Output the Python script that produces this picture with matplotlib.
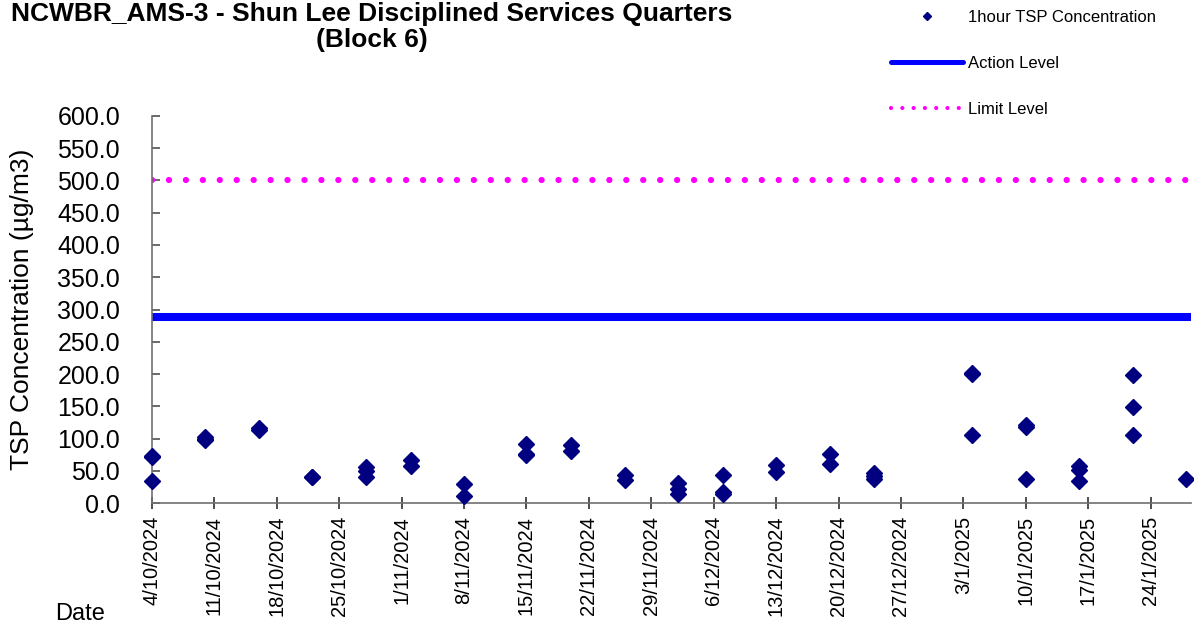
#!/usr/bin/env python3

import datetime
import matplotlib
matplotlib.use('Agg')
import matplotlib.pyplot as plt
import matplotlib.dates as mdates
from matplotlib.lines import Line2D
from matplotlib.ticker import FuncFormatter, FormatStrFormatter, MultipleLocator

plt.rcParams['font.family'] = ['Liberation Sans', 'DejaVu Sans']

# 1-hour TSP readings (ug/m3), one entry per sample
sample_days = ['2024-10-04', '2024-10-04', '2024-10-04',
               '2024-10-10', '2024-10-10', '2024-10-10',
               '2024-10-16', '2024-10-16',
               '2024-10-22', '2024-10-22',
               '2024-10-28', '2024-10-28', '2024-10-28',
               '2024-11-02', '2024-11-02',
               '2024-11-08', '2024-11-08',
               '2024-11-15', '2024-11-15', '2024-11-15',
               '2024-11-20', '2024-11-20',
               '2024-11-26', '2024-11-26',
               '2024-12-02', '2024-12-02', '2024-12-02',
               '2024-12-07', '2024-12-07', '2024-12-07',
               '2024-12-13', '2024-12-13',
               '2024-12-19', '2024-12-19',
               '2024-12-24', '2024-12-24', '2024-12-24',
               '2025-01-04', '2025-01-04', '2025-01-04',
               '2025-01-10', '2025-01-10', '2025-01-10',
               '2025-01-16', '2025-01-16', '2025-01-16',
               '2025-01-22', '2025-01-22', '2025-01-22',
               '2025-01-28']
tsp_values = [73, 71, 35,
              103, 100, 98,
              116, 114,
              41, 40,
              56, 50, 40,
              67, 57,
              30, 11,
              92, 77, 74,
              91, 81,
              44, 36,
              31, 22, 15,
              44, 17, 15,
              59, 49,
              77, 61,
              47, 42, 37,
              201, 200, 105,
              121, 118, 37,
              58, 51, 34,
              198, 149, 105,
              38]

action_level = 288
limit_level = 500

axis_start = datetime.datetime(2024, 10, 4)
axis_end = datetime.datetime(2025, 1, 28, 12)

dates = [datetime.datetime.strptime(d, '%Y-%m-%d') for d in sample_days]

fig = plt.figure(figsize=(11.94, 6.33), dpi=100)
ax = fig.add_axes([0.1273, 0.2049, 0.870, 0.6123])

ax.plot(dates, tsp_values, linestyle='none', marker='D', markersize=8,
        color='#000080', zorder=3, clip_on=False)
ax.axhline(action_level, color='#0000FF', linewidth=5.8, solid_capstyle='butt', zorder=2)
ax.axhline(limit_level, color='#FF00FF', linewidth=4.5, linestyle=(0, (0.01, 2.7)),
           dash_capstyle='round', zorder=2)

ax.set_xlim(axis_start, axis_end)
ax.set_ylim(0, 600)

ax.yaxis.set_major_locator(MultipleLocator(50))
ax.yaxis.set_major_formatter(FormatStrFormatter('%.1f'))
ax.set_xticks([mdates.date2num(axis_start + datetime.timedelta(days=7 * i)) for i in range(17)])
ax.xaxis.set_major_formatter(FuncFormatter(
    lambda v, p: '{d.day}/{d.month}/{d.year}'.format(d=mdates.num2date(v))))

for side in ['top', 'right']:
    ax.spines[side].set_visible(False)
for side in ['left', 'bottom']:
    ax.spines[side].set_color('#707070')
    ax.spines[side].set_linewidth(1.2)

ax.tick_params(axis='y', direction='in', length=6, width=1.2, color='#505050',
               labelsize=18, pad=23)
ax.tick_params(axis='x', direction='inout', length=8, width=1.2, color='#303030',
               labelsize=14.5, labelrotation=90, pad=5)

ax.set_ylabel('TSP Concentration (µg/m3)', fontsize=19)
ax.yaxis.set_label_coords(-0.1136, 0.5)

fig.text(55 / 1194, 1 - 614 / 633, 'Date', fontsize=17, ha='left', va='center')

fig.text(372 / 1194, 1 - 27 / 633,
         'NCWBR_AMS-3 - Shun Lee Disciplined Services Quarters\n(Block 6)',
         fontsize=19, fontweight='bold', ha='center', va='center', linespacing=1.1)

handles = [
    Line2D([], [], linestyle='none', marker='D', markersize=4, color='#000080'),
    Line2D([], [], color='#0000FF', linewidth=3.6, solid_capstyle='round'),
    Line2D([], [], color='#FF00FF', linewidth=3, linestyle=(0, (0.01, 2.7)),
           dash_capstyle='round'),
]
labels = ['1hour TSP Concentration', 'Action Level', 'Limit Level']
fig.legend(handles, labels, loc='upper left', bbox_to_anchor=(891 / 1194, 1 - 10 / 633),
           frameon=False, fontsize=12, handlelength=4.3, handletextpad=0.35,
           labelspacing=1.85, borderpad=0, borderaxespad=0, numpoints=1)

fig.savefig('out.png', dpi=100)
